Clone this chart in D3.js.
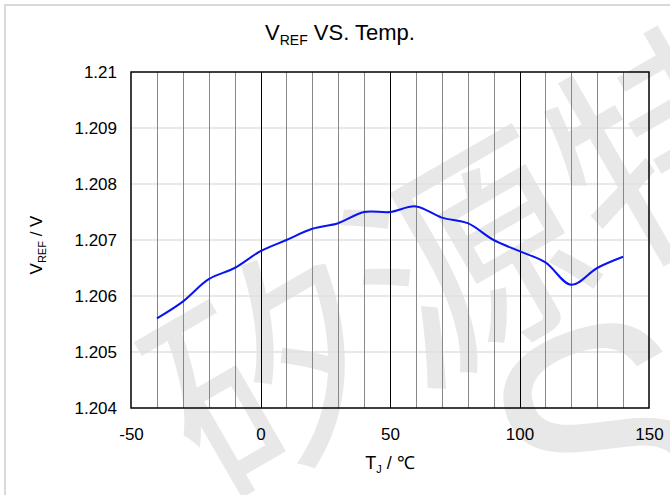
<!DOCTYPE html>
<html>
<head>
<meta charset="utf-8">
<script src="https://cdn.jsdelivr.net/npm/d3@7"></script>
<style>
  body { margin: 0; background: #fff; }
  text { font-family: "Liberation Sans", Arial, sans-serif; fill: #000; }
</style>
</head>
<body>
<div id="chart"></div>
<script>
const temps = [-40, -30, -20, -10, 0, 10, 20, 30, 40, 50, 60, 70, 80, 90, 100, 110, 120, 130, 140];
const vref = [1.2056, 1.2059, 1.2063, 1.2065, 1.2068, 1.2070, 1.2072, 1.2073, 1.2075, 1.2075,
              1.2076, 1.2074, 1.2073, 1.2070, 1.2068, 1.2066, 1.2062, 1.2065, 1.2067];
const xTicks = [-50, 0, 50, 100, 150];
const xGrid = d3.range(-40, 150, 10);
const yTicks = [1.204, 1.205, 1.206, 1.207, 1.208, 1.209, 1.21];

const W = 670, H = 495;
const margin = {top: 72, right: 21, bottom: 87, left: 131},
      width = W - margin.left - margin.right,
      height = H - margin.top - margin.bottom;

const svg = d3.select('#chart').append('svg')
    .attr('width', W)
    .attr('height', H);

// watermark, sits behind the chart
const wm = svg.append('g');
wm.append('text')
    .attr('transform', 'translate(214,505) rotate(-30)')
    .style('font-family', '"Noto Sans CJK SC", sans-serif')
    .style('font-size', '230px')
    .style('fill', '#e8e8e8')
    .text('矽源特');
wm.append('text')
    .attr('transform', 'translate(540,580) rotate(-20)')
    .style('font-size', '320px')
    .style('fill', '#e8e8e8')
    .text('S');

// outer frame
svg.append('path')
    .attr('d', 'M5,' + H + 'V5H' + W)
    .attr('fill', 'none')
    .attr('stroke', '#d9d9d9')
    .attr('stroke-width', 2);

const x = d3.scaleLinear().domain([-50, 150]).range([0, width]);
const y = d3.scaleLinear().domain([1.204, 1.21]).range([height, 0]);

const g = svg.append('g')
    .attr('transform', 'translate(' + margin.left + ',' + margin.top + ')');

// horizontal gridlines
g.append('g').selectAll('line')
    .data(yTicks.slice(1, -1))
  .enter().append('line')
    .attr('x1', 0).attr('x2', width)
    .attr('y1', d => y(d)).attr('y2', d => y(d))
    .attr('stroke', '#e0e0e0')
    .attr('stroke-width', 1.5);

// vertical gridlines, black every 50
g.append('g').selectAll('line')
    .data(xGrid)
  .enter().append('line')
    .attr('x1', d => Math.round(x(d)) + 0.5).attr('x2', d => Math.round(x(d)) + 0.5)
    .attr('y1', 0).attr('y2', height)
    .attr('stroke', d => d % 50 === 0 ? '#000' : '#888')
    .attr('stroke-width', 1);

g.append('rect')
    .attr('x', 0).attr('y', 0)
    .attr('width', width).attr('height', height)
    .attr('fill', 'none')
    .attr('stroke', '#000')
    .attr('stroke-width', 1.5);

const line = d3.line()
    .x((d, i) => x(temps[i]))
    .y(d => y(d))
    .curve(d3.curveCatmullRom.alpha(0.5));

g.append('path')
    .datum(vref)
    .attr('d', line)
    .attr('fill', 'none')
    .attr('stroke', '#0a14f0')
    .attr('stroke-width', 2);

// axes (labels only)
const xAxis = d3.axisBottom(x).tickValues(xTicks).tickSize(0).tickPadding(20).tickFormat(d => d);
const yAxis = d3.axisLeft(y).tickValues(yTicks).tickSize(0).tickPadding(14).tickFormat(d => +d.toFixed(3));

g.append('g')
    .attr('transform', 'translate(0,' + height + ')')
    .call(xAxis)
    .call(a => a.select('.domain').remove())
    .selectAll('text')
    .style('font-size', '17px')
    .style('font-family', '"Liberation Sans", Arial, sans-serif');

g.append('g')
    .call(yAxis)
    .call(a => a.select('.domain').remove())
    .selectAll('text')
    .style('font-size', '17px')
    .style('font-family', '"Liberation Sans", Arial, sans-serif');

// title
const title = svg.append('text')
    .attr('x', 340).attr('y', 40)
    .attr('text-anchor', 'middle')
    .style('font-size', '22px');
title.append('tspan').text('V');
title.append('tspan').attr('dy', 5).style('font-size', '14px').text('REF');
title.append('tspan').attr('dy', -5).text(' VS. Temp.');

// x title
const xt = svg.append('text')
    .attr('x', 390).attr('y', 469)
    .attr('text-anchor', 'middle')
    .style('font-size', '18px');
xt.append('tspan').text('T');
xt.append('tspan').attr('dy', 4).style('font-size', '11px').text('J');
xt.append('tspan').attr('dy', -4).text(' / ℃');

// y title
const yt = svg.append('text')
    .attr('transform', 'translate(42,245) rotate(-90)')
    .attr('text-anchor', 'middle')
    .style('font-size', '17px');
yt.append('tspan').text('V');
yt.append('tspan').attr('dy', 4).style('font-size', '11px').text('REF');
yt.append('tspan').attr('dy', -4).text(' / V');
</script>
</body>
</html>
